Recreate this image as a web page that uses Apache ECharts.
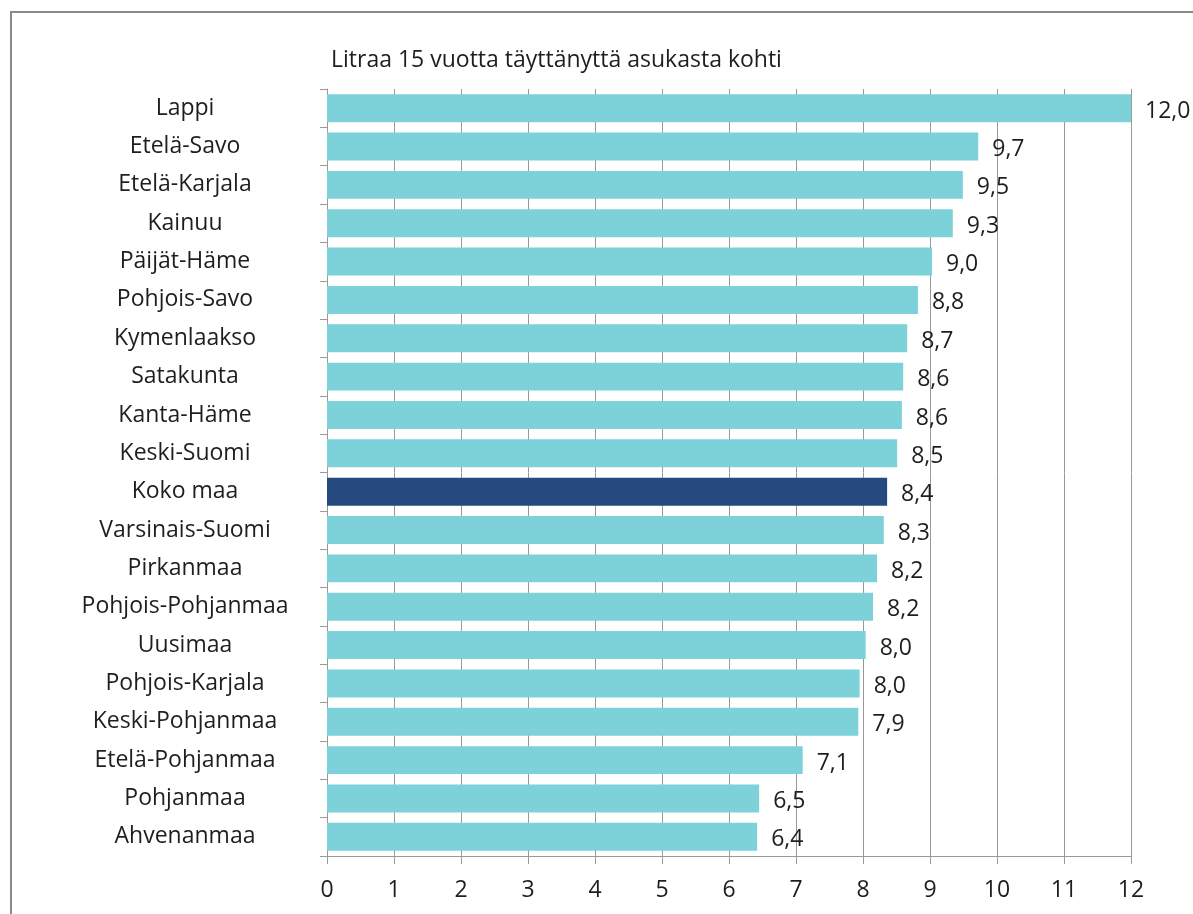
<!DOCTYPE html>
<html><head><meta charset="utf-8">
<script src="https://cdn.jsdelivr.net/npm/echarts@6/dist/echarts.min.js"></script>
<style>html,body{margin:0;padding:0;background:#fff}#c{width:1193px;height:914px}</style>
</head><body><div id="c"></div>
<script>
const titleText = 'Litraa 15 vuotta täyttänyttä asukasta kohti';
const categories = ['Lappi','Etelä-Savo','Etelä-Karjala','Kainuu','Päijät-Häme','Pohjois-Savo','Kymenlaakso','Satakunta','Kanta-Häme','Keski-Suomi','Koko maa','Varsinais-Suomi','Pirkanmaa','Pohjois-Pohjanmaa','Uusimaa','Pohjois-Karjala','Keski-Pohjanmaa','Etelä-Pohjanmaa','Pohjanmaa','Ahvenanmaa'];
const values = [12.0,9.72,9.49,9.34,9.03,8.82,8.66,8.6,8.58,8.51,8.36,8.31,8.21,8.15,8.04,7.95,7.93,7.1,6.45,6.42];
const labels = ['12,0','9,7','9,5','9,3','9,0','8,8','8,7','8,6','8,6','8,5','8,4','8,3','8,2','8,2','8,0','8,0','7,9','7,1','6,5','6,4'];
const highlight = 'Koko maa';
const xTicks = [0,1,2,3,4,5,6,7,8,9,10,11,12];

const FONT = '"Open Sans", sans-serif';
const chart = echarts.init(document.getElementById('c'));
chart.setOption({
  animation:false,
  graphic:[{type:'rect',shape:{x:11,y:12,width:1300,height:1000},style:{fill:'none',stroke:'#8a8a8a',lineWidth:2},silent:true},
    {type:'text',left:331,top:49,style:{text:titleText,font:'23px '+FONT,fill:'#1e1e1e'}}],
  grid:{left:327,right:62,top:89,bottom:58},
  xAxis:{type:'value',min:0,max:12,interval:1,
    axisLine:{show:true,lineStyle:{color:'#999',width:1}},
    axisTick:{show:true,length:8,lineStyle:{color:'#999'}},
    splitLine:{show:true,lineStyle:{color:'#999',width:1}},
    axisLabel:{color:'#1e1e1e',fontSize:23,fontFamily:FONT,margin:23,formatter:v=>String(v)}},
  yAxis:{type:'category',data:categories,inverse:true,
    axisLine:{show:true,lineStyle:{color:'#999'}},
    axisTick:{show:true,length:7,lineStyle:{color:'#999'}},
    axisLabel:{color:'#1e1e1e',fontSize:23,fontFamily:FONT,margin:142,align:'center',padding:[6,0,0,0]}},
  series:[{type:'bar',barWidth:'73%',
    data:values.map((v,i)=>({value:v,itemStyle:{color:categories[i]===highlight?'#244A80':'#7DD1D8'}})),
    label:{show:true,position:'right',distance:14,offset:[0,3],color:'#1e1e1e',fontSize:23,fontFamily:FONT,
      formatter:p=>labels[p.dataIndex]}}]
});
</script></body></html>
